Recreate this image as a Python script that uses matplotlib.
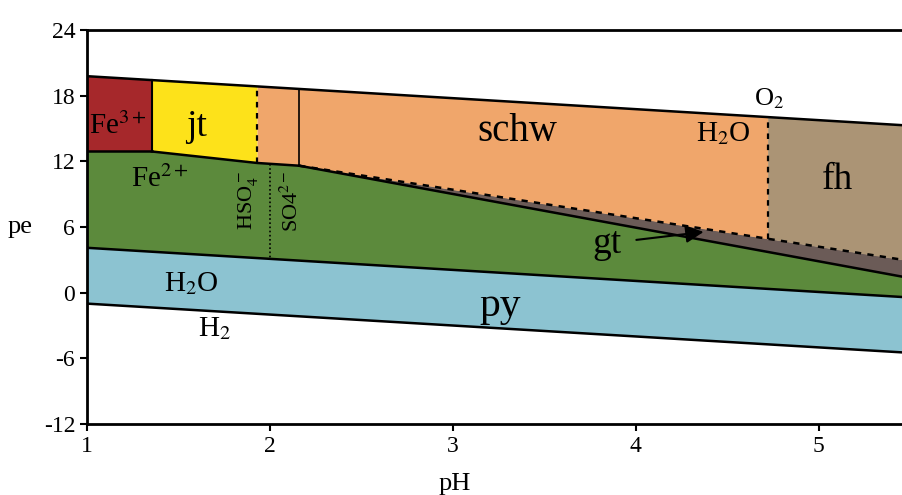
import numpy as np
from matplotlib import pyplot as plt

plt.rcParams['font.family'] = ['Liberation Serif', 'DejaVu Serif']
plt.rcParams['mathtext.fontset'] = 'stix'
plt.rcParams['axes.unicode_minus'] = False

# pH range shown (right side is cut off in the source figure)
ph_edge = [1.0, 5.46]

# water stability limits and Fe2+/pyrite boundary
o2_h2o = [19.78, 15.30]
h2o_h2 = [-1.0, -5.46]
fe2_py = [4.1, -0.4]

# Fe3+ / Fe2+ and the jarosite bottom
fe3_fe2_pe = 12.9
fe3_jt_ph = 1.355
jt_bot_ph = [1.355, 1.93, 2.16]
jt_bot_pe = [12.9, 11.85, 11.6]

# schwertmannite bottom (dashed) and goethite bottom (solid)
schw_bot_ph = [2.16, 5.46]
schw_bot_pe = [11.6, 3.0]
gt_bot_ph = [2.16, 5.46]
gt_bot_pe = [11.6, 1.45]

jt_schw_ph = 1.93
sulf_ph = 2.16
schw_fh_ph = 4.72
hso4_so4_ph = 2.0

colors = {'fe3': '#a6282b', 'jt': '#fde21a', 'schw': '#f0a66b', 'fh': '#ab9475',
          'fe2': '#5c8a3c', 'gt': '#6b5b57', 'py': '#8cc3d1'}


def o2_at(x):
    return np.interp(x, ph_edge, o2_h2o)


fig = plt.figure(dpi=100, figsize=(9.03, 4.95))
ax = fig.add_axes([0.0963, 0.1434, 0.9037, 0.796])

# py
ax.fill_between(ph_edge, h2o_h2, fe2_py, color=colors['py'], lw=0)

# Fe2+ (top follows Fe3+/Fe2+, jt bottom, then gt bottom)
top_ph = np.array([1.0, fe3_jt_ph] + jt_bot_ph[1:] + gt_bot_ph[1:])
top_pe = np.array([fe3_fe2_pe, fe3_fe2_pe] + jt_bot_pe[1:] + gt_bot_pe[1:])
ax.fill(np.concatenate([top_ph, top_ph[::-1]]),
        np.concatenate([top_pe, np.interp(top_ph[::-1], ph_edge, fe2_py)]),
        color=colors['fe2'], lw=0)

# gt
ax.fill(np.concatenate([schw_bot_ph, gt_bot_ph[::-1]]),
        np.concatenate([schw_bot_pe, gt_bot_pe[::-1]]), color=colors['gt'], lw=0)

# Fe3+
x = np.array([1.0, fe3_jt_ph])
ax.fill_between(x, fe3_fe2_pe, o2_at(x), color=colors['fe3'], lw=0)

# jt
x = np.array([fe3_jt_ph, 1.93])
ax.fill_between(x, np.interp(x, jt_bot_ph, jt_bot_pe), o2_at(x), color=colors['jt'], lw=0)

# schw
x = np.array([jt_schw_ph, 2.16, schw_fh_ph])
low = np.where(x <= 2.16, np.interp(x, jt_bot_ph, jt_bot_pe), np.interp(x, schw_bot_ph, schw_bot_pe))
ax.fill_between(x, low, o2_at(x), color=colors['schw'], lw=0)

# fh
x = np.array([schw_fh_ph, ph_edge[1]])
ax.fill_between(x, np.interp(x, schw_bot_ph, schw_bot_pe), o2_at(x), color=colors['fh'], lw=0)

# boundaries
k = 'black'
ax.plot(ph_edge, o2_h2o, c=k, lw=1.8)
ax.plot(ph_edge, h2o_h2, c=k, lw=1.8)
ax.plot(ph_edge, fe2_py, c=k, lw=1.8)
ax.plot([1.0, fe3_jt_ph], [fe3_fe2_pe, fe3_fe2_pe], c=k, lw=1.8)
ax.plot(jt_bot_ph, jt_bot_pe, c=k, lw=1.8)
ax.plot(gt_bot_ph, gt_bot_pe, c=k, lw=1.8)
ax.plot(schw_bot_ph, schw_bot_pe, c=k, lw=1.8, ls=(0, (2.5, 2.5)))
ax.plot([fe3_jt_ph] * 2, [fe3_fe2_pe, o2_at(fe3_jt_ph)], c=k, lw=1.5)
ax.plot([jt_schw_ph] * 2, [np.interp(jt_schw_ph, jt_bot_ph, jt_bot_pe), o2_at(jt_schw_ph)],
        c=k, lw=1.6, ls=(0, (2.5, 2.5)))
ax.plot([sulf_ph] * 2, [np.interp(sulf_ph, jt_bot_ph, jt_bot_pe), o2_at(sulf_ph)], c=k, lw=1.2)
ax.plot([schw_fh_ph] * 2, [np.interp(schw_fh_ph, schw_bot_ph, schw_bot_pe), o2_at(schw_fh_ph)],
        c=k, lw=1.6, ls=(0, (2.5, 2.5)))
ax.plot([hso4_so4_ph] * 2, [np.interp(hso4_so4_ph, jt_bot_ph, jt_bot_pe),
                            np.interp(hso4_so4_ph, ph_edge, fe2_py)],
        c=k, lw=1.2, ls=(0, (1, 1.5)))

# labels
fs = 21
big = 27
ax.text(1.17, 15.2, r'Fe$^{3+}$', fontsize=fs, ha='center', va='center')
ax.text(1.6, 15.2, 'jt', fontsize=big, ha='center', va='center')
ax.text(3.35, 14.7, 'schw', fontsize=28, ha='center', va='center')
ax.text(4.48, 14.5, r'H$_2$O', fontsize=fs, ha='center', va='center')
ax.text(4.73, 17.7, r'O$_2$', fontsize=19, ha='center', va='center')
ax.text(5.1, 10.3, 'fh', fontsize=big, ha='center', va='center')
ax.text(1.4, 10.4, r'Fe$^{2+}$', fontsize=fs, ha='center', va='center')
ax.text(1.88, 8.4, r'HSO$_4^-$', fontsize=16, rotation=90, ha='center', va='center')
ax.text(2.12, 8.4, r'SO4$^{2-}$', fontsize=16, rotation=90, ha='center', va='center')
ax.annotate('gt', xy=(4.37, 5.55), xytext=(3.84, 4.5), fontsize=big, ha='center', va='center',
            arrowprops=dict(arrowstyle='-|>', color=k, lw=1.5, shrinkA=9, shrinkB=0))
ax.text(1.57, 0.8, r'H$_2$O', fontsize=fs, ha='center', va='center')
ax.text(3.26, -1.2, 'py', fontsize=30, ha='center', va='center')
ax.text(1.7, -3.3, r'H$_2$', fontsize=fs, ha='center', va='center')

# Format plot.
ax.set_xlim(ph_edge)
ax.set_ylim(-12, 24)
ax.set_xticks([1, 2, 3, 4, 5])
ax.set_yticks([-12, -6, 0, 6, 12, 18, 24])
ax.tick_params(axis='both', which='major', labelsize=17, width=1.5, length=5)
ax.spines['right'].set_visible(False)
for s in ['left', 'bottom', 'top']:
    ax.spines[s].set_linewidth(2)
ax.set_ylabel('pe', fontsize=19, rotation=0, va='center')
ax.yaxis.set_label_coords(-0.082, 0.5)
ax.set_xlabel('pH', fontsize=19)
ax.xaxis.set_label_coords(0.451, -0.125)

plt.savefig('out.png', dpi=100)
